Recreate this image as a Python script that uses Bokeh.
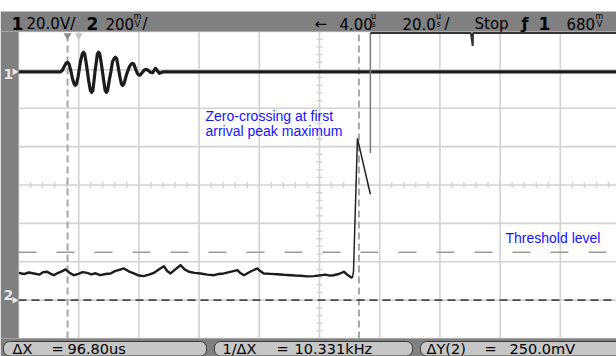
import numpy as np
from bokeh.plotting import figure
from bokeh.models import Label, Range1d
from bokeh.embed import file_html
from bokeh.resources import INLINE

# ---------------- acquisition data ----------------
# Channel 1: transmitted burst (time in us, volts)
ch1_t_us = [0, 14.0, 14.6, 15.2, 15.8, 16.3, 16.8, 17.3, 17.6, 18.0,
            18.5, 18.9, 19.3, 19.8, 20.2, 20.6, 21.2, 21.6, 22.0, 22.5,
            22.9, 23.3, 23.9, 24.3, 24.7, 25.1, 25.4, 25.8, 26.2, 26.6,
            27.0, 27.5, 27.9, 28.3, 28.8, 29.2, 29.6, 30.2, 30.7, 31.2,
            31.8, 32.2, 32.6, 33.0, 33.4, 33.8, 34.2, 34.6, 35.0, 35.7,
            36.2, 36.9, 37.5, 37.9, 38.3, 38.9, 39.4, 39.8, 40.2, 40.6,
            41.2, 41.8, 42.5, 43.2, 43.8, 44.5, 45.0, 45.5, 46.2, 46.8,
            47.5, 48.2, 200.0]
ch1_volts = [0, 0, 0.8, 2.8, 4.5, 4.9, 4.0, 1.0, -1.0, -4.0,
             -6.4, -7.0, -6.2, -2.5, 1.5, 5.5, 9.3, 10.2, 9.3, 4.5,
             0, -4.5, -9.8, -10.7, -9.8, -4.5, 0, 4.5, 9.3, 10.2,
             9.3, 4.5, 0, -4.5, -9.8, -10.7, -9.8, -4.0, 0, 5.0,
             7.1, 7.6, 6.9, 3.5, 0, -3.5, -6.4, -7.0, -6.4, -2.5,
             0, 2.8, 4.1, 4.4, 4.0, 1.5, -0.5, -1.5, -1.8, -1.5,
             -0.2, 0.9, 1.3, 0.6, -0.2, -0.5, 0.6, 1.8, 0.4, -0.8,
             -0.3, 0, 0]

# Channel 2: received signal before first arrival (time in us, mV)
ch2_t_us = [0.1, 1.8, 3.4, 5.1, 7.0, 8.3, 9.5, 10.6, 11.7, 13.0,
            14.4, 15.6, 17.0, 18.4, 19.9, 21.3, 22.8, 24.2, 25.6, 27.2,
            28.9, 30.6, 32.0, 33.5, 35.0, 36.6, 38.3, 40.0, 41.6, 43.3,
            45.0, 46.6, 48.3, 49.4, 50.5, 52.1, 53.8, 55.2, 56.6, 58.5,
            60.5, 62.7, 64.9, 66.5, 68.2, 70.4, 72.7, 73.8, 74.9, 77.1,
            79.3, 80.4, 81.5, 83.7, 85.9, 88.1, 90.4, 92.0, 93.7, 95.9,
            98.1, 100.0, 102.0, 103.4, 104.8, 106.4, 108.1, 109.6, 110.9]
ch2_mv = [142, 136, 144, 139, 133, 146, 148, 138, 130, 141,
          150, 160, 142, 130, 137, 146, 142, 134, 140, 130,
          136, 139, 151, 158, 165, 150, 139, 128, 125, 133,
          142, 160, 177, 152, 139, 160, 182, 160, 148, 142,
          139, 133, 130, 136, 139, 147, 156, 140, 130, 149,
          165, 150, 139, 137, 135, 132, 130, 128, 127, 124,
          125, 129, 133, 128, 130, 136, 148, 128, 115]

# Channel 2: first arrival and the saturated part of the record
ch2_arrival_t_us = [110.9, 111.3, 112.6, 116.9]
ch2_arrival_mv = [115, 150, 843, 552]
ch2_rise_t_us = [116.9, 116.9]
ch2_rise_mv = [766, 1392]
ch2_sat_t_us = [116.9, 150.3, 150.9, 151.0, 200.0]
ch2_sat_mv = [1392, 1392, 1325, 1392, 1392]

# Cursor settings
cursor_x1_us = 16.3
delta_x_us = 96.80
cursor_y1_mv = 0.0
delta_y_mv = 250.0
time_ref_us = 20.0

# Scope settings
US_PER_DIV = 20.0
DELAY_US = 4.00
CH1_V_PER_DIV = 20.0
CH2_MV_PER_DIV = 200
TRIG_LEVEL_MV = 680
CH1_POS_DIV = 2.95
CH2_POS_DIV = -3.0
N_XDIV, N_YDIV = 10, 8

# ---------------- screen geometry ----------------
W, H = 616, 356
LEFT_STRIP = 18
TOP_WHITE, TOP_BAR = 11, 31
BOTTOM_BAR = 18
GRAT_W = 602
GRAT_H = H - TOP_BAR - BOTTOM_BAR
TEXT_SHIFT = 5  # label baseline correction, px

px_per_us = GRAT_W / (N_XDIV * US_PER_DIV)
px_per_div = GRAT_H / N_YDIV
x_lo = -LEFT_STRIP / px_per_us
x_hi = x_lo + W / px_per_us
y_hi = N_YDIV / 2 + TOP_BAR / px_per_div
y_lo = y_hi - H / px_per_div
T_END = N_XDIV * US_PER_DIV
Y_TOP, Y_BOT = N_YDIV / 2, -N_YDIV / 2


def sx(px):
    return x_lo + px / px_per_us


def sy(py):
    return y_hi - py / px_per_div


def ch1_div(v):
    return np.asarray(v, dtype=float) / CH1_V_PER_DIV + CH1_POS_DIV


def ch2_div(mv):
    return np.asarray(mv, dtype=float) / CH2_MV_PER_DIV + CH2_POS_DIV


p = figure(width=W, height=H, x_range=Range1d(x_lo, x_hi), y_range=Range1d(y_lo, y_hi),
           x_axis_type=None, y_axis_type=None, output_backend="svg",
           toolbar_location=None, min_border=0, outline_line_color=None,
           background_fill_color="white", border_fill_color="white")

# ---------------- graticule ----------------
GRID = "#d2d2d2"
gx = np.arange(N_XDIV + 1) * US_PER_DIV
p.segment(x0=gx, y0=Y_BOT, x1=gx, y1=Y_TOP, line_color=GRID, line_width=1.6)
gy = np.arange(Y_BOT, Y_TOP + 1)
p.segment(x0=0, y0=gy, x1=T_END, y1=gy, line_color=GRID, line_width=1.6)

t_mid = T_END / 2
tick_t = np.arange(0, T_END + 0.01, US_PER_DIV / 5)
p.segment(x0=tick_t, y0=-3 / px_per_div, x1=tick_t, y1=3 / px_per_div,
          line_color=GRID, line_width=1.4)
tick_y = np.arange(Y_BOT, Y_TOP + 0.01, 0.2)
p.segment(x0=t_mid - 3 / px_per_us, y0=tick_y, x1=t_mid + 3 / px_per_us, y1=tick_y,
          line_color=GRID, line_width=1.4)

# ---------------- cursors ----------------
cursor_x2_us = cursor_x1_us + delta_x_us
cursor_y2_mv = cursor_y1_mv + delta_y_mv
p.segment(x0=[cursor_x1_us, cursor_x2_us], y0=Y_BOT, x1=[cursor_x1_us, cursor_x2_us], y1=Y_TOP,
          line_color="#a6a6a6", line_width=2, line_dash="7 4")
p.segment(x0=0, y0=float(ch2_div(cursor_y2_mv)), x1=T_END, y1=float(ch2_div(cursor_y2_mv)),
          line_color="#9a9a9a", line_width=1.5, line_dash="18 20")
p.segment(x0=0, y0=float(ch2_div(cursor_y1_mv)), x1=T_END, y1=float(ch2_div(cursor_y1_mv)),
          line_color="#4a4a4a", line_width=1.6, line_dash="8 5")

# ---------------- traces ----------------
p.line(ch1_t_us, ch1_div(ch1_volts), line_color="#1c1c1c", line_width=3.2, line_join="round")
p.line(ch2_t_us, ch2_div(ch2_mv), line_color="#1c1c1c", line_width=2.4, line_join="round")
p.line(ch2_arrival_t_us, ch2_div(ch2_arrival_mv), line_color="#222222", line_width=1.5)
p.line(ch2_rise_t_us, ch2_div(ch2_rise_mv), line_color="#7a7a7a", line_width=1.5)
p.line(ch2_sat_t_us, ch2_div(ch2_sat_mv), line_color="#333333", line_width=2)

# ---------------- frame bars ----------------
BAR = "#808080"
p.quad(left=x_lo, right=x_hi, bottom=Y_TOP, top=sy(TOP_WHITE), fill_color=BAR, line_color=None)
p.quad(left=x_lo, right=0, bottom=Y_BOT, top=Y_TOP, fill_color=BAR, line_color=None)
p.quad(left=x_lo, right=x_hi, bottom=y_lo, top=Y_BOT, fill_color=BAR, line_color=None)

# top markers: cursor X1 and time reference
p.scatter([cursor_x1_us], [sy(35)], marker="inverted_triangle", size=8,
          fill_color="#8a8a8a", line_color=None)
p.scatter([time_ref_us], [sy(35)], marker="inverted_triangle", size=8,
          fill_color="#c4c4c4", line_color=None)

# channel ground markers
p.scatter([sx(14)], [float(ch1_div(0))], marker="triangle", angle=-np.pi / 2, size=7,
          fill_color="#e8e8e8", line_color=None)
p.scatter([sx(14)], [float(ch2_div(0))], marker="triangle", angle=-np.pi / 2, size=7,
          fill_color="#e8e8e8", line_color=None)

# readout boxes
box_l = [3, 214, 420]
box_r = [206, 412, 622]
p.quad(left=[sx(v) for v in box_l], right=[sx(v) for v in box_r],
       bottom=sy(355.5), top=sy(341), fill_color="#c6c6c6", line_color="#3a3a3a",
       line_width=1, border_radius=6)


def txt(px, py, s, size, color="black", bold=False, font="DejaVu Sans", align="left"):
    p.add_layout(Label(x=sx(px), y=sy(py - TEXT_SHIFT), text=s, text_font=font,
                       text_font_size=f"{size}px", text_color=color,
                       text_font_style="bold" if bold else "normal",
                       text_align=align, text_baseline="alphabetic"))


def stacked(px, top, bottom):
    txt(px, 21, top, 8, align="center")
    txt(px, 28.5, bottom, 8, align="center")


# status line
txt(11, 28, "1", 17, bold=True)
txt(26, 28, f"{CH1_V_PER_DIV:.1f}V/", 15)
txt(86, 28, "2", 17, bold=True)
txt(105, 28, f"{CH2_MV_PER_DIV}", 15)
stacked(137, "m", "V")
txt(142, 28, "/", 15)
txt(314, 28, "\u2190", 15)
txt(339, 28, f"{DELAY_US:.2f}", 15)
stacked(373, "u", "s")
txt(402, 28, f"{US_PER_DIV:.1f}", 15)
stacked(438, "u", "s")
txt(444, 28, "/", 15)
txt(474, 28, "Stop", 15)
txt(521, 28, "\u0192", 16, bold=True)
txt(538, 28, "1", 17, bold=True)
txt(566, 28, f"{TRIG_LEVEL_MV}", 15)
stacked(599, "m", "V")

# ground marker numbers
txt(3, 78, "1", 14, color="#e8e8e8", bold=True)
txt(3, 299, "2", 14, color="#e8e8e8", bold=True)

# cursor readouts
txt(12, 353, "\u0394X", 14.5)
txt(51, 353, "=", 14.5)
txt(67, 353, f"{delta_x_us:.2f}us", 14.5)
txt(222, 353, "1/\u0394X", 14.5)
txt(276, 353, "=", 14.5)
txt(294, 353, f"{1000.0 / delta_x_us:.3f}kHz", 14.5)
txt(426, 353, "\u0394Y(2)", 14.5)
txt(484, 353, "=", 14.5)
txt(509, 353, f"{delta_y_mv:.1f}mV", 14.5)

# annotations
BLUE = "#1414ff"
txt(205, 120.5, "Zero-crossing at first", 14, color=BLUE, font="Liberation Sans")
txt(205, 135.5, "arrival peak maximum", 14, color=BLUE, font="Liberation Sans")
txt(505, 242.5, "Threshold level", 14, color=BLUE, font="Liberation Sans")

open("out.html", "w").write(file_html(p, INLINE))
